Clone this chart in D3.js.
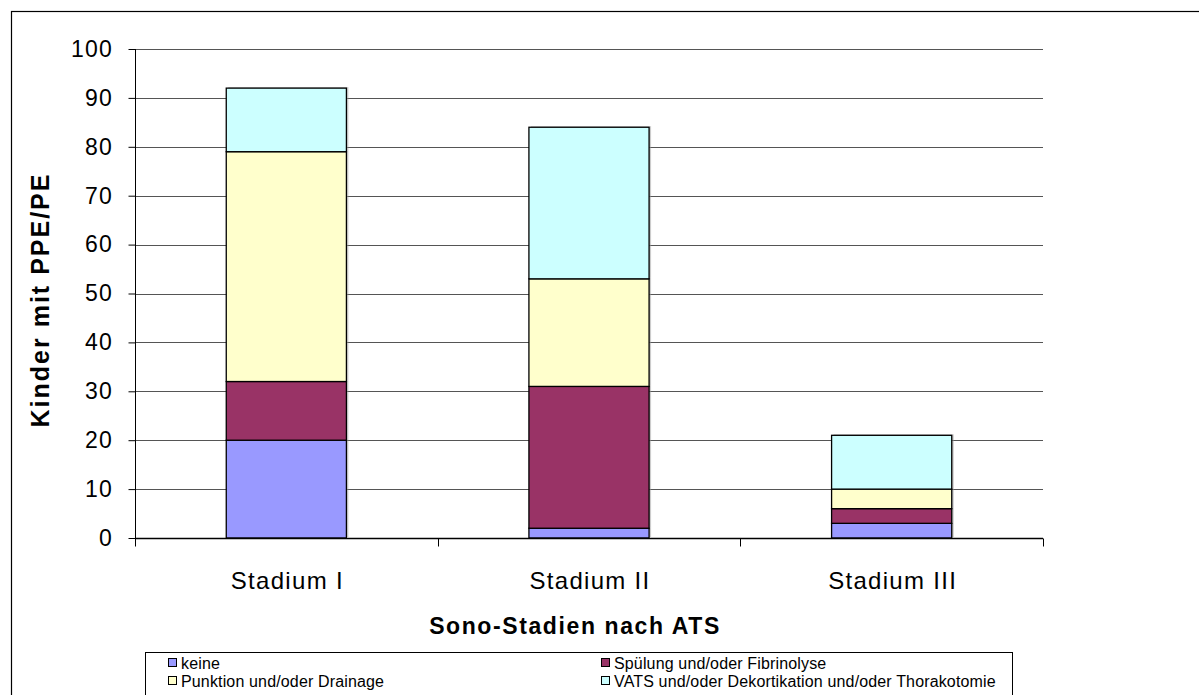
<!DOCTYPE html>
<html>
<head>
<meta charset="utf-8">
<script src="https://cdn.jsdelivr.net/npm/d3@7/dist/d3.min.js"></script>
<style>
  html, body { margin: 0; padding: 0; background: #fff; }
  svg { display: block; font-family: "Liberation Sans", Arial, sans-serif; }
</style>
</head>
<body>
<svg id="chart" width="1199" height="695"></svg>
<script>
// Categories and stacked series values (children per ultrasound stage)
const categories = ["Stadium I", "Stadium II", "Stadium III"];
const seriesNames = [
  "keine",
  "Spülung und/oder Fibrinolyse",
  "Punktion und/oder Drainage",
  "VATS und/oder Dekortikation und/oder Thorakotomie"
];
const keine = [20, 2, 3];
const spuelung = [12, 29, 3];
const punktion = [47, 22, 4];
const vats = [13, 31, 11];
const seriesColors = ["#9999ff", "#993366", "#ffffcc", "#ccffff"];
const yTicks = [0, 10, 20, 30, 40, 50, 60, 70, 80, 90, 100];

const seriesValues = [keine, spuelung, punktion, vats];
const rows = categories.map((c, i) => {
  const r = { cat: c };
  seriesNames.forEach((s, k) => { r[s] = seriesValues[k][i]; });
  return r;
});
const stacked = d3.stack().keys(seriesNames)(rows);

const svg = d3.select("#chart");
const plot = { left: 135, right: 1043, top: 49, bottom: 538 };

// Outer frame
svg.append("rect")
  .attr("x", 11.5).attr("y", 11.5)
  .attr("width", 1199).attr("height", 700)
  .attr("fill", "none").attr("stroke", "#000").attr("stroke-width", 1.2);

const x = d3.scaleBand().domain(categories)
  .range([plot.left, plot.right]).paddingInner(0).paddingOuter(0);
const y = d3.scaleLinear().domain([0, 100]).range([plot.bottom, plot.top]);

// Horizontal gridlines
svg.append("g").selectAll("line")
  .data(yTicks.filter(t => t > 0))
  .join("line")
  .attr("x1", plot.left).attr("x2", plot.right)
  .attr("y1", d => Math.round(y(d)) + 0.5).attr("y2", d => Math.round(y(d)) + 0.5)
  .attr("stroke", "#555").attr("stroke-width", 1);

// Bars
const barW = x.bandwidth() * 0.397;
const layers = svg.append("g").selectAll("g")
  .data(stacked).join("g")
  .attr("fill", (d, i) => seriesColors[i]);

// subtle drop shadow behind each segment
layers.selectAll("rect.shadow")
  .data(d => d).join("rect").attr("class", "shadow")
  .attr("x", d => x(d.data.cat) + (x.bandwidth() - barW) / 2 + 2)
  .attr("y", d => y(d[1]) - 1)
  .attr("width", barW)
  .attr("height", d => y(d[0]) - y(d[1]))
  .attr("fill", "#999").attr("opacity", 0.5);

layers.selectAll("rect.seg")
  .data(d => d).join("rect").attr("class", "seg")
  .attr("x", d => x(d.data.cat) + (x.bandwidth() - barW) / 2)
  .attr("y", d => y(d[1]))
  .attr("width", barW)
  .attr("height", d => y(d[0]) - y(d[1]))
  .attr("stroke", "#000").attr("stroke-width", 1.3);

// Y axis
const yAxis = d3.axisLeft(y).tickValues(yTicks).tickSize(7).tickPadding(15.5);
const gy = svg.append("g").attr("transform", `translate(${plot.left + 0.5},0)`).call(yAxis);
gy.select(".domain").attr("stroke", "#000").attr("d", `M-0,${plot.top}V${plot.bottom}`);
gy.selectAll(".tick line").attr("stroke", "#000");
gy.selectAll(".tick text").attr("font-size", 23).attr("fill", "#000")
  .attr("letter-spacing", 1.2)
  .attr("font-family", "Liberation Sans, Arial, sans-serif");

// X axis with ticks at category boundaries
const gx = svg.append("g").attr("transform", `translate(0,${plot.bottom + 0.5})`);
gx.append("line").attr("x1", plot.left).attr("x2", plot.right)
  .attr("stroke", "#000").attr("stroke-width", 1.3);
const bounds = categories.map(c => x(c)).concat([plot.right]);
gx.selectAll("line.tk").data(bounds).join("line").attr("class", "tk")
  .attr("x1", d => Math.round(d) + 0.5).attr("x2", d => Math.round(d) + 0.5)
  .attr("y1", 0).attr("y2", 8).attr("stroke", "#000");
gx.selectAll("text").data(categories).join("text")
  .attr("x", d => x(d) + x.bandwidth() / 2 + 1)
  .attr("y", 50.5)
  .attr("text-anchor", "middle")
  .attr("font-size", 24).attr("letter-spacing", 1.3).attr("fill", "#000")
  .text(d => d);

// Axis titles
svg.append("text")
  .attr("x", 575).attr("y", 634)
  .attr("text-anchor", "middle")
  .attr("font-size", 23).attr("font-weight", "bold").attr("letter-spacing", 1.6)
  .text("Sono-Stadien nach ATS");
svg.append("text")
  .attr("transform", `translate(49,300) rotate(-90)`)
  .attr("text-anchor", "middle")
  .attr("font-size", 25).attr("font-weight", "bold").attr("letter-spacing", 2)
  .text("Kinder mit PPE/PE");

// Legend
const lg = svg.append("g");
lg.append("rect").attr("x", 145.5).attr("y", 652.5)
  .attr("width", 867).attr("height", 60)
  .attr("fill", "#fff").attr("stroke", "#000").attr("stroke-width", 1);
const legendPos = [
  { x: 168, y: 669 }, { x: 601, y: 669 },
  { x: 168, y: 687 }, { x: 601, y: 687 }
];
seriesNames.forEach((s, i) => {
  const p = legendPos[i];
  lg.append("rect").attr("x", p.x + 0.5).attr("y", p.y - 10.5)
    .attr("width", 8).attr("height", 8)
    .attr("fill", seriesColors[i]).attr("stroke", "#000").attr("stroke-width", 1);
  lg.append("text").attr("x", p.x + 13).attr("y", p.y)
    .attr("font-size", 16).attr("letter-spacing", 0.15).attr("fill", "#000").text(s);
});
</script>
</body>
</html>
